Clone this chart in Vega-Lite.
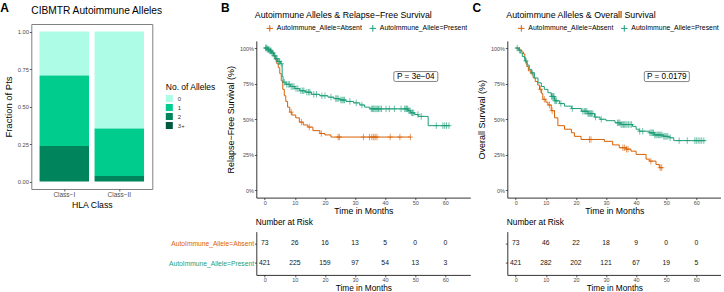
{
  "$schema": "https://vega.github.io/schema/vega-lite/v6.json",
  "background": "white",
  "padding": {"left": 0.3, "top": 1.0, "right": 0, "bottom": 0},
  "bounds": "flush",
  "align": "each",
  "columns": 6,
  "spacing": {"row": 33.6, "column": 2},
  "config": {
    "font": "Liberation Sans",
    "view": {"stroke": null},
    "axis": {
      "grid": false,
      "domainColor": "#000",
      "domainWidth": 0.8,
      "tickColor": "#333",
      "tickSize": 2,
      "tickWidth": 0.8,
      "labelColor": "#4d4d4d",
      "labelFontSize": 5.5,
      "labelPadding": 0.8,
      "titleFontSize": 9,
      "titleFontWeight": "normal",
      "titleColor": "#000"
    },
    "title": {"fontWeight": "normal", "color": "#000", "anchor": "start", "frame": "group"},
    "legend": {"padding": 0}
  },
  "datasets": {
    "alleles": [
      {"cls": "Class−I", "n": "0", "frac": 0.293},
      {"cls": "Class−I", "n": "1", "frac": 0.47},
      {"cls": "Class−I", "n": "2", "frac": 0.237},
      {"cls": "Class−I", "n": "3+", "frac": 0},
      {"cls": "Class−II", "n": "0", "frac": 0.646},
      {"cls": "Class−II", "n": "1", "frac": 0.317},
      {"cls": "Class−II", "n": "2", "frac": 0.037},
      {"cls": "Class−II", "n": "3+", "frac": 0}
    ],
    "rfs": [
      {"g": "Absent", "t": 0, "s": 1},
      {"g": "Absent", "t": 1.2, "s": 0.986},
      {"g": "Absent", "t": 2.2, "s": 0.972},
      {"g": "Absent", "t": 3.0, "s": 0.945},
      {"g": "Absent", "t": 3.5, "s": 0.918},
      {"g": "Absent", "t": 4.0, "s": 0.89},
      {"g": "Absent", "t": 4.5, "s": 0.862},
      {"g": "Absent", "t": 5.0, "s": 0.82},
      {"g": "Absent", "t": 5.5, "s": 0.77},
      {"g": "Absent", "t": 6.0, "s": 0.71},
      {"g": "Absent", "t": 6.5, "s": 0.665},
      {"g": "Absent", "t": 7.0, "s": 0.625},
      {"g": "Absent", "t": 7.6, "s": 0.585},
      {"g": "Absent", "t": 8.3, "s": 0.55},
      {"g": "Absent", "t": 9.0, "s": 0.53},
      {"g": "Absent", "t": 10.3, "s": 0.51},
      {"g": "Absent", "t": 11.5, "s": 0.48},
      {"g": "Absent", "t": 12.8, "s": 0.46},
      {"g": "Absent", "t": 14.3, "s": 0.445},
      {"g": "Absent", "t": 16.0, "s": 0.42},
      {"g": "Absent", "t": 18.3, "s": 0.40},
      {"g": "Absent", "t": 20.0, "s": 0.39},
      {"g": "Absent", "t": 22.0, "s": 0.375},
      {"g": "Absent", "t": 48.5, "s": 0.375},
      {"g": "Present", "t": 0, "s": 1},
      {"g": "Present", "t": 0.8, "s": 0.99},
      {"g": "Present", "t": 1.5, "s": 0.98},
      {"g": "Present", "t": 2.2, "s": 0.965},
      {"g": "Present", "t": 3.0, "s": 0.945},
      {"g": "Present", "t": 3.6, "s": 0.925},
      {"g": "Present", "t": 4.3, "s": 0.905},
      {"g": "Present", "t": 5.2, "s": 0.89},
      {"g": "Present", "t": 5.8, "s": 0.80},
      {"g": "Present", "t": 6.1, "s": 0.76},
      {"g": "Present", "t": 7.0, "s": 0.745},
      {"g": "Present", "t": 8.5, "s": 0.73},
      {"g": "Present", "t": 10.0, "s": 0.715},
      {"g": "Present", "t": 11.6, "s": 0.70},
      {"g": "Present", "t": 13.5, "s": 0.69},
      {"g": "Present", "t": 15.5, "s": 0.675},
      {"g": "Present", "t": 18.3, "s": 0.665},
      {"g": "Present", "t": 21.0, "s": 0.655},
      {"g": "Present", "t": 23.0, "s": 0.645},
      {"g": "Present", "t": 25.0, "s": 0.635},
      {"g": "Present", "t": 27.0, "s": 0.625},
      {"g": "Present", "t": 29.5, "s": 0.615},
      {"g": "Present", "t": 31.6, "s": 0.60},
      {"g": "Present", "t": 33.2, "s": 0.585},
      {"g": "Present", "t": 34.9, "s": 0.573},
      {"g": "Present", "t": 47.6, "s": 0.56},
      {"g": "Present", "t": 48.4, "s": 0.545},
      {"g": "Present", "t": 49.8, "s": 0.533},
      {"g": "Present", "t": 51.0, "s": 0.52},
      {"g": "Present", "t": 54.3, "s": 0.455},
      {"g": "Present", "t": 61.5, "s": 0.455}
    ],
    "rfs_cens": [
      {"g": "Absent", "t": 8.8, "s": 0.55},
      {"g": "Absent", "t": 12.2, "s": 0.48},
      {"g": "Absent", "t": 14.8, "s": 0.445},
      {"g": "Absent", "t": 18.8, "s": 0.40},
      {"g": "Absent", "t": 24.4, "s": 0.375},
      {"g": "Absent", "t": 24.8, "s": 0.375},
      {"g": "Absent", "t": 32.8, "s": 0.375},
      {"g": "Absent", "t": 34.8, "s": 0.375},
      {"g": "Absent", "t": 35.6, "s": 0.375},
      {"g": "Absent", "t": 36.2, "s": 0.375},
      {"g": "Absent", "t": 36.7, "s": 0.375},
      {"g": "Absent", "t": 37.3, "s": 0.375},
      {"g": "Absent", "t": 41.7, "s": 0.375},
      {"g": "Absent", "t": 44.9, "s": 0.375},
      {"g": "Absent", "t": 48.4, "s": 0.375},
      {"g": "Present", "t": 0.3, "s": 1},
      {"g": "Present", "t": 0.5, "s": 1},
      {"g": "Present", "t": 0.7, "s": 1},
      {"g": "Present", "t": 1.0, "s": 0.99},
      {"g": "Present", "t": 1.2, "s": 0.99},
      {"g": "Present", "t": 1.4, "s": 0.99},
      {"g": "Present", "t": 1.7, "s": 0.98},
      {"g": "Present", "t": 1.9, "s": 0.98},
      {"g": "Present", "t": 2.1, "s": 0.98},
      {"g": "Present", "t": 2.4, "s": 0.965},
      {"g": "Present", "t": 2.7, "s": 0.965},
      {"g": "Present", "t": 3.2, "s": 0.945},
      {"g": "Present", "t": 3.4, "s": 0.945},
      {"g": "Present", "t": 3.8, "s": 0.925},
      {"g": "Present", "t": 4.1, "s": 0.925},
      {"g": "Present", "t": 4.5, "s": 0.905},
      {"g": "Present", "t": 4.8, "s": 0.905},
      {"g": "Present", "t": 5.0, "s": 0.905},
      {"g": "Present", "t": 5.5, "s": 0.89},
      {"g": "Present", "t": 6.5, "s": 0.76},
      {"g": "Present", "t": 7.3, "s": 0.745},
      {"g": "Present", "t": 7.8, "s": 0.745},
      {"g": "Present", "t": 8.2, "s": 0.745},
      {"g": "Present", "t": 8.8, "s": 0.73},
      {"g": "Present", "t": 9.3, "s": 0.73},
      {"g": "Present", "t": 9.7, "s": 0.73},
      {"g": "Present", "t": 10.4, "s": 0.715},
      {"g": "Present", "t": 11.0, "s": 0.715},
      {"g": "Present", "t": 12.0, "s": 0.70},
      {"g": "Present", "t": 12.6, "s": 0.70},
      {"g": "Present", "t": 13.0, "s": 0.70},
      {"g": "Present", "t": 14.0, "s": 0.69},
      {"g": "Present", "t": 14.6, "s": 0.69},
      {"g": "Present", "t": 15.0, "s": 0.69},
      {"g": "Present", "t": 16.3, "s": 0.675},
      {"g": "Present", "t": 17.2, "s": 0.675},
      {"g": "Present", "t": 19.0, "s": 0.665},
      {"g": "Present", "t": 20.0, "s": 0.665},
      {"g": "Present", "t": 22.0, "s": 0.655},
      {"g": "Present", "t": 23.6, "s": 0.645},
      {"g": "Present", "t": 24.0, "s": 0.645},
      {"g": "Present", "t": 24.4, "s": 0.645},
      {"g": "Present", "t": 25.3, "s": 0.635},
      {"g": "Present", "t": 25.7, "s": 0.635},
      {"g": "Present", "t": 26.1, "s": 0.635},
      {"g": "Present", "t": 26.5, "s": 0.635},
      {"g": "Present", "t": 28.3, "s": 0.625},
      {"g": "Present", "t": 30.4, "s": 0.615},
      {"g": "Present", "t": 32.3, "s": 0.60},
      {"g": "Present", "t": 35.4, "s": 0.573},
      {"g": "Present", "t": 35.8, "s": 0.573},
      {"g": "Present", "t": 36.2, "s": 0.573},
      {"g": "Present", "t": 36.6, "s": 0.573},
      {"g": "Present", "t": 37.0, "s": 0.573},
      {"g": "Present", "t": 37.4, "s": 0.573},
      {"g": "Present", "t": 37.8, "s": 0.573},
      {"g": "Present", "t": 38.3, "s": 0.573},
      {"g": "Present", "t": 38.8, "s": 0.573},
      {"g": "Present", "t": 40.3, "s": 0.573},
      {"g": "Present", "t": 41.4, "s": 0.573},
      {"g": "Present", "t": 43.1, "s": 0.573},
      {"g": "Present", "t": 45.3, "s": 0.573},
      {"g": "Present", "t": 46.5, "s": 0.573},
      {"g": "Present", "t": 46.9, "s": 0.573},
      {"g": "Present", "t": 47.2, "s": 0.573},
      {"g": "Present", "t": 47.5, "s": 0.573},
      {"g": "Present", "t": 47.9, "s": 0.56},
      {"g": "Present", "t": 48.3, "s": 0.56},
      {"g": "Present", "t": 48.7, "s": 0.545},
      {"g": "Present", "t": 49.1, "s": 0.545},
      {"g": "Present", "t": 49.5, "s": 0.545},
      {"g": "Present", "t": 50.9, "s": 0.533},
      {"g": "Present", "t": 52.0, "s": 0.52},
      {"g": "Present", "t": 57.0, "s": 0.455},
      {"g": "Present", "t": 59.2, "s": 0.455},
      {"g": "Present", "t": 59.8, "s": 0.455},
      {"g": "Present", "t": 60.4, "s": 0.455},
      {"g": "Present", "t": 61.2, "s": 0.455}
    ],
    "os": [
      {"g": "Absent", "t": 0, "s": 1},
      {"g": "Absent", "t": 1.3, "s": 0.986},
      {"g": "Absent", "t": 2.0, "s": 0.972},
      {"g": "Absent", "t": 2.6, "s": 0.958},
      {"g": "Absent", "t": 3.0, "s": 0.93},
      {"g": "Absent", "t": 3.3, "s": 0.90},
      {"g": "Absent", "t": 3.7, "s": 0.87},
      {"g": "Absent", "t": 4.2, "s": 0.84},
      {"g": "Absent", "t": 5.0, "s": 0.82},
      {"g": "Absent", "t": 5.8, "s": 0.79},
      {"g": "Absent", "t": 6.5, "s": 0.765},
      {"g": "Absent", "t": 7.3, "s": 0.74},
      {"g": "Absent", "t": 7.9, "s": 0.71},
      {"g": "Absent", "t": 8.6, "s": 0.68},
      {"g": "Absent", "t": 9.0, "s": 0.64},
      {"g": "Absent", "t": 10.0, "s": 0.62},
      {"g": "Absent", "t": 10.7, "s": 0.60},
      {"g": "Absent", "t": 11.8, "s": 0.56},
      {"g": "Absent", "t": 12.9, "s": 0.51},
      {"g": "Absent", "t": 14.0, "s": 0.455},
      {"g": "Absent", "t": 16.2, "s": 0.43},
      {"g": "Absent", "t": 18.5, "s": 0.405},
      {"g": "Absent", "t": 19.5, "s": 0.38},
      {"g": "Absent", "t": 21.7, "s": 0.358},
      {"g": "Absent", "t": 29.5, "s": 0.345},
      {"g": "Absent", "t": 32.2, "s": 0.32},
      {"g": "Absent", "t": 34.4, "s": 0.30},
      {"g": "Absent", "t": 36.7, "s": 0.29},
      {"g": "Absent", "t": 38.3, "s": 0.276},
      {"g": "Absent", "t": 40.0, "s": 0.253},
      {"g": "Absent", "t": 43.3, "s": 0.22},
      {"g": "Absent", "t": 44.4, "s": 0.206},
      {"g": "Absent", "t": 46.6, "s": 0.182},
      {"g": "Absent", "t": 47.7, "s": 0.16},
      {"g": "Absent", "t": 48.8, "s": 0.16},
      {"g": "Present", "t": 0, "s": 1},
      {"g": "Present", "t": 0.8, "s": 0.985},
      {"g": "Present", "t": 1.5, "s": 0.965},
      {"g": "Present", "t": 2.2, "s": 0.94},
      {"g": "Present", "t": 3.0, "s": 0.91},
      {"g": "Present", "t": 3.8, "s": 0.88},
      {"g": "Present", "t": 4.5, "s": 0.85},
      {"g": "Present", "t": 5.2, "s": 0.826},
      {"g": "Present", "t": 6.2, "s": 0.79},
      {"g": "Present", "t": 7.4, "s": 0.756},
      {"g": "Present", "t": 8.5, "s": 0.73},
      {"g": "Present", "t": 9.5, "s": 0.71},
      {"g": "Present", "t": 10.7, "s": 0.686},
      {"g": "Present", "t": 11.8, "s": 0.66},
      {"g": "Present", "t": 12.9, "s": 0.63},
      {"g": "Present", "t": 14.5, "s": 0.61},
      {"g": "Present", "t": 16.2, "s": 0.592},
      {"g": "Present", "t": 18.5, "s": 0.575},
      {"g": "Present", "t": 21.8, "s": 0.556},
      {"g": "Present", "t": 24.0, "s": 0.54},
      {"g": "Present", "t": 26.2, "s": 0.515},
      {"g": "Present", "t": 28.0, "s": 0.50},
      {"g": "Present", "t": 30.0, "s": 0.49},
      {"g": "Present", "t": 33.0, "s": 0.475},
      {"g": "Present", "t": 35.0, "s": 0.463},
      {"g": "Present", "t": 38.8, "s": 0.45},
      {"g": "Present", "t": 40.0, "s": 0.43},
      {"g": "Present", "t": 41.0, "s": 0.416},
      {"g": "Present", "t": 44.4, "s": 0.405},
      {"g": "Present", "t": 46.0, "s": 0.39},
      {"g": "Present", "t": 49.0, "s": 0.38},
      {"g": "Present", "t": 51.0, "s": 0.37},
      {"g": "Present", "t": 52.5, "s": 0.35},
      {"g": "Present", "t": 63.1, "s": 0.35}
    ],
    "os_cens": [
      {"g": "Absent", "t": 8.2, "s": 0.71},
      {"g": "Absent", "t": 9.5, "s": 0.64},
      {"g": "Absent", "t": 11.2, "s": 0.60},
      {"g": "Absent", "t": 12.1, "s": 0.56},
      {"g": "Absent", "t": 24.5, "s": 0.358},
      {"g": "Absent", "t": 25.0, "s": 0.358},
      {"g": "Absent", "t": 35.6, "s": 0.30},
      {"g": "Absent", "t": 36.2, "s": 0.30},
      {"g": "Absent", "t": 36.8, "s": 0.29},
      {"g": "Absent", "t": 37.3, "s": 0.29},
      {"g": "Absent", "t": 44.9, "s": 0.206},
      {"g": "Absent", "t": 48.0, "s": 0.16},
      {"g": "Absent", "t": 48.5, "s": 0.16},
      {"g": "Present", "t": 0.5, "s": 1},
      {"g": "Present", "t": 1.2, "s": 0.985},
      {"g": "Present", "t": 3.4, "s": 0.91},
      {"g": "Present", "t": 5.5, "s": 0.826},
      {"g": "Present", "t": 11.9, "s": 0.66},
      {"g": "Present", "t": 12.2, "s": 0.66},
      {"g": "Present", "t": 12.5, "s": 0.66},
      {"g": "Present", "t": 12.7, "s": 0.66},
      {"g": "Present", "t": 13.0, "s": 0.63},
      {"g": "Present", "t": 13.3, "s": 0.63},
      {"g": "Present", "t": 13.6, "s": 0.63},
      {"g": "Present", "t": 15.0, "s": 0.61},
      {"g": "Present", "t": 18.8, "s": 0.575},
      {"g": "Present", "t": 22.3, "s": 0.556},
      {"g": "Present", "t": 22.8, "s": 0.556},
      {"g": "Present", "t": 23.2, "s": 0.556},
      {"g": "Present", "t": 23.6, "s": 0.556},
      {"g": "Present", "t": 24.0, "s": 0.54},
      {"g": "Present", "t": 24.3, "s": 0.54},
      {"g": "Present", "t": 24.6, "s": 0.54},
      {"g": "Present", "t": 24.9, "s": 0.54},
      {"g": "Present", "t": 25.2, "s": 0.54},
      {"g": "Present", "t": 25.6, "s": 0.54},
      {"g": "Present", "t": 26.5, "s": 0.515},
      {"g": "Present", "t": 28.4, "s": 0.50},
      {"g": "Present", "t": 33.8, "s": 0.475},
      {"g": "Present", "t": 34.2, "s": 0.475},
      {"g": "Present", "t": 34.6, "s": 0.475},
      {"g": "Present", "t": 35.0, "s": 0.463},
      {"g": "Present", "t": 35.4, "s": 0.463},
      {"g": "Present", "t": 35.8, "s": 0.463},
      {"g": "Present", "t": 36.2, "s": 0.463},
      {"g": "Present", "t": 36.6, "s": 0.463},
      {"g": "Present", "t": 37.0, "s": 0.463},
      {"g": "Present", "t": 37.5, "s": 0.463},
      {"g": "Present", "t": 38.0, "s": 0.463},
      {"g": "Present", "t": 38.5, "s": 0.463},
      {"g": "Present", "t": 41.2, "s": 0.416},
      {"g": "Present", "t": 42.2, "s": 0.416},
      {"g": "Present", "t": 44.6, "s": 0.405},
      {"g": "Present", "t": 45.0, "s": 0.405},
      {"g": "Present", "t": 45.4, "s": 0.405},
      {"g": "Present", "t": 45.8, "s": 0.405},
      {"g": "Present", "t": 46.2, "s": 0.39},
      {"g": "Present", "t": 46.6, "s": 0.39},
      {"g": "Present", "t": 47.0, "s": 0.39},
      {"g": "Present", "t": 47.4, "s": 0.39},
      {"g": "Present", "t": 47.8, "s": 0.39},
      {"g": "Present", "t": 48.2, "s": 0.39},
      {"g": "Present", "t": 48.6, "s": 0.39},
      {"g": "Present", "t": 49.2, "s": 0.38},
      {"g": "Present", "t": 49.6, "s": 0.38},
      {"g": "Present", "t": 50.0, "s": 0.38},
      {"g": "Present", "t": 50.5, "s": 0.38},
      {"g": "Present", "t": 51.3, "s": 0.37},
      {"g": "Present", "t": 54.3, "s": 0.35},
      {"g": "Present", "t": 57.0, "s": 0.35},
      {"g": "Present", "t": 59.5, "s": 0.35},
      {"g": "Present", "t": 60.0, "s": 0.35},
      {"g": "Present", "t": 60.6, "s": 0.35},
      {"g": "Present", "t": 61.2, "s": 0.35},
      {"g": "Present", "t": 61.8, "s": 0.35},
      {"g": "Present", "t": 62.5, "s": 0.35}
    ],
    "pvals": [
      {"panel": "RFS", "t": 50.2, "s": 0.80, "label": "P = 3e−04"},
      {"panel": "OS", "t": 50.2, "s": 0.80, "label": "P = 0.0179"}
    ],
    "risk_rfs": [
      {"g": "Absent", "t": 0, "n": 73}, {"g": "Absent", "t": 10, "n": 26}, {"g": "Absent", "t": 20, "n": 16},
      {"g": "Absent", "t": 30, "n": 13}, {"g": "Absent", "t": 40, "n": 5}, {"g": "Absent", "t": 50, "n": 0},
      {"g": "Absent", "t": 60, "n": 0},
      {"g": "Present", "t": 0, "n": 421}, {"g": "Present", "t": 10, "n": 225}, {"g": "Present", "t": 20, "n": 159},
      {"g": "Present", "t": 30, "n": 97}, {"g": "Present", "t": 40, "n": 54}, {"g": "Present", "t": 50, "n": 13},
      {"g": "Present", "t": 60, "n": 3}
    ],
    "risk_os": [
      {"g": "Absent", "t": 0, "n": 73}, {"g": "Absent", "t": 10, "n": 46}, {"g": "Absent", "t": 20, "n": 22},
      {"g": "Absent", "t": 30, "n": 18}, {"g": "Absent", "t": 40, "n": 9}, {"g": "Absent", "t": 50, "n": 0},
      {"g": "Absent", "t": 60, "n": 0},
      {"g": "Present", "t": 0, "n": 421}, {"g": "Present", "t": 10, "n": 282}, {"g": "Present", "t": 20, "n": 202},
      {"g": "Present", "t": 30, "n": 121}, {"g": "Present", "t": 40, "n": 67}, {"g": "Present", "t": 50, "n": 19},
      {"g": "Present", "t": 60, "n": 5}
    ]
  },
  "resolve": {"scale": {"color": "independent"}, "legend": {"color": "independent"}},
  "concat": [
    {
      "width": 28.3,
      "height": 1,
      "data": {"values": []},
      "mark": {"type": "point", "opacity": 0},
      "title": {"text": "A", "fontSize": 12, "fontWeight": "bold", "offset": 0.4, "baseline": "alphabetic"}
    },
    {
      "width": 121,
      "height": 165,
      "data": {"name": "alleles"},
      "title": {"text": "CIBMTR Autoimmune Alleles", "fontSize": 10.2, "offset": -0.4, "baseline": "alphabetic"},
      "view": {"stroke": "#7f7f7f", "strokeWidth": 1},
      "mark": {"type": "bar"},
      "encoding": {
        "x": {
          "field": "cls",
          "type": "nominal",
          "sort": ["Class−I", "Class−II"],
          "scale": {"paddingInner": 0.1, "paddingOuter": 0.15},
          "axis": {"title": "HLA Class", "labelAngle": 0, "labelFontSize": 6.5, "titleFontSize": 8.7, "domain": false, "titlePadding": 2}
        },
        "y": {
          "field": "frac",
          "type": "quantitative",
          "stack": "zero",
          "scale": {"domain": [-0.05, 1.05], "nice": false},
          "axis": {"title": "Fraction of Pts", "values": [0, 0.25, 0.5, 0.75, 1], "format": ".2f", "domain": false, "labelFontSize": 5.8, "titleFontSize": 9.5, "titlePadding": 4}
        },
        "color": {
          "field": "n",
          "type": "nominal",
          "scale": {"domain": ["0", "1", "2", "3+"], "range": ["#adfce6", "#00cc8e", "#00845b", "#005a40"]},
          "legend": {
            "title": "No. of Alleles",
            "orient": "none",
            "legendX": 134.5,
            "legendY": 58.5,
            "titleFontSize": 8.5,
            "titleFontWeight": "normal",
            "titleColor": "#000",
            "titlePadding": 4,
            "labelFontSize": 6,
            "labelColor": "#333",
            "symbolType": "square",
            "symbolSize": 49,
            "symbolStrokeWidth": 0,
            "symbolOpacity": 1,
            "rowPadding": 2,
            "labelOffset": 5
          }
        },
        "order": {"field": "n", "sort": "descending"}
      }
    },
    {
      "width": 99.5,
      "height": 1,
      "data": {"values": []},
      "mark": {"type": "point", "opacity": 0},
      "title": {"text": "B", "fontSize": 12, "fontWeight": "bold", "dx": 66.7, "offset": 0.4, "baseline": "alphabetic"}
    },
    {
      "width": 214,
      "height": 173.6,
      "title": {"text": "Autoimmune Alleles & Relapse−Free Survival", "fontSize": 8.8, "dx": -1.5, "offset": -2.5, "baseline": "alphabetic"},
      "encoding": {
        "x": {
          "field": "t",
          "type": "quantitative",
          "scale": {"domain": [-2.8, 68.3], "nice": false, "zero": false},
          "axis": {"values": [0, 10, 20, 30, 40, 50, 60], "title": "Time in Months", "titleFontSize": 8.7, "titlePadding": 1}
        },
        "y": {
          "field": "s",
          "type": "quantitative",
          "scale": {"domain": [-0.05, 1.05], "range": [173.6, 16.9], "nice": false},
          "axis": {"values": [0, 0.25, 0.5, 0.75, 1], "format": ".0%", "title": "Relapse−Free Survival (%)", "titlePadding": 4}
        }
      },
      "layer": [
        {
          "data": {"name": "rfs"},
          "mark": {"type": "line", "interpolate": "step-after", "strokeWidth": 1},
          "encoding": {
            "color": {
              "field": "g",
              "type": "nominal",
              "scale": {"domain": ["Absent", "Present"], "range": ["#d95f02", "#1b9e77"]},
              "legend": {
                "title": null,
                "orient": "none",
                "direction": "horizontal",
                "legendX": 9.5,
                "legendY": 0,
                "symbolType": "M-1,0H1M0,-1V1",
                "symbolSize": 42,
                "symbolStrokeWidth": 1,
                "labelFontSize": 6.9,
                "labelColor": "#000",
                "labelOffset": 3,
                "columnPadding": 4,
                "labelExpr": "'AutoImmune_Allele=' + datum.label"
              }
            }
          }
        },
        {
          "data": {"name": "rfs_cens"},
          "mark": {"type": "point", "shape": "M-0.8,0H0.8M0,-1V1", "size": 42, "filled": false, "strokeWidth": 0.9, "opacity": 0.7},
          "encoding": {
            "color": {"field": "g", "type": "nominal", "scale": {"domain": ["Absent", "Present"], "range": ["#d95f02", "#1b9e77"]}, "legend": null}
          }
        },
        {
          "data": {"name": "pvals"},
          "transform": [{"filter": "datum.panel == 'RFS'"}],
          "mark": {"type": "point", "shape": "M-0.93,-0.225H0.93Q1,-0.225 1,-0.155V0.155Q1,0.225 0.93,0.225H-0.93Q-1,0.225 -1,0.155V-0.155Q-1,-0.225 -0.93,-0.225Z", "size": 1936, "filled": true, "fill": "white", "stroke": "#666", "strokeWidth": 0.8, "opacity": 1}
        },
        {
          "data": {"name": "pvals"},
          "transform": [{"filter": "datum.panel == 'RFS'"}],
          "mark": {"type": "text", "fontSize": 8.2, "color": "#000"},
          "encoding": {"text": {"field": "label"}}
        }
      ]
    },
    {
      "width": 33,
      "height": 1,
      "data": {"values": []},
      "mark": {"type": "point", "opacity": 0},
      "title": {"text": "C", "fontSize": 12, "fontWeight": "bold", "dx": 0.3, "offset": 0.4, "baseline": "alphabetic"}
    },
    {
      "width": 214,
      "height": 173.6,
      "title": {"text": "Autoimmune Alleles & Overall Survival", "fontSize": 8.8, "dx": -1, "offset": -2.5, "baseline": "alphabetic"},
      "encoding": {
        "x": {
          "field": "t",
          "type": "quantitative",
          "scale": {"domain": [-2.8, 68.3], "nice": false, "zero": false},
          "axis": {"values": [0, 10, 20, 30, 40, 50, 60], "title": "Time in Months", "titleFontSize": 8.7, "titlePadding": 1}
        },
        "y": {
          "field": "s",
          "type": "quantitative",
          "scale": {"domain": [-0.05, 1.05], "range": [173.6, 16.9], "nice": false},
          "axis": {"values": [0, 0.25, 0.5, 0.75, 1], "format": ".0%", "title": "Overall Survival (%)", "titlePadding": 4}
        }
      },
      "layer": [
        {
          "data": {"name": "os"},
          "mark": {"type": "line", "interpolate": "step-after", "strokeWidth": 1},
          "encoding": {
            "color": {
              "field": "g",
              "type": "nominal",
              "scale": {"domain": ["Absent", "Present"], "range": ["#d95f02", "#1b9e77"]},
              "legend": {
                "title": null,
                "orient": "none",
                "direction": "horizontal",
                "legendX": 10,
                "legendY": 0,
                "symbolType": "M-1,0H1M0,-1V1",
                "symbolSize": 42,
                "symbolStrokeWidth": 1,
                "labelFontSize": 6.9,
                "labelColor": "#000",
                "labelOffset": 3,
                "columnPadding": 4,
                "labelExpr": "'AutoImmune_Allele=' + datum.label"
              }
            }
          }
        },
        {
          "data": {"name": "os_cens"},
          "mark": {"type": "point", "shape": "M-0.8,0H0.8M0,-1V1", "size": 42, "filled": false, "strokeWidth": 0.9, "opacity": 0.7},
          "encoding": {
            "color": {"field": "g", "type": "nominal", "scale": {"domain": ["Absent", "Present"], "range": ["#d95f02", "#1b9e77"]}, "legend": null}
          }
        },
        {
          "data": {"name": "pvals"},
          "transform": [{"filter": "datum.panel == 'OS'"}],
          "mark": {"type": "point", "shape": "M-0.93,-0.225H0.93Q1,-0.225 1,-0.155V0.155Q1,0.225 0.93,0.225H-0.93Q-1,0.225 -1,0.155V-0.155Q-1,-0.225 -0.93,-0.225Z", "size": 2025, "filled": true, "fill": "white", "stroke": "#666", "strokeWidth": 0.8, "opacity": 1}
        },
        {
          "data": {"name": "pvals"},
          "transform": [{"filter": "datum.panel == 'OS'"}],
          "mark": {"type": "text", "fontSize": 8.2, "color": "#000"},
          "encoding": {"text": {"field": "label"}}
        }
      ]
    },
    {"width": 1, "height": 1, "data": {"values": []}, "mark": {"type": "point", "opacity": 0}},
    {"width": 1, "height": 1, "data": {"values": []}, "mark": {"type": "point", "opacity": 0}},
    {"width": 1, "height": 1, "data": {"values": []}, "mark": {"type": "point", "opacity": 0}},
    {
      "width": 214,
      "height": 43.3,
      "data": {"name": "risk_rfs"},
      "title": {"text": "Number at Risk", "fontSize": 8.3, "dx": -0.5, "offset": -1.8, "baseline": "alphabetic"},
      "mark": {"type": "text", "fontSize": 6.8, "color": "#111"},
      "encoding": {
        "x": {
          "field": "t",
          "type": "quantitative",
          "scale": {"domain": [-2.8, 68.3], "nice": false, "zero": false},
          "axis": {"values": [0, 10, 20, 30, 40, 50, 60], "title": "Time in Months", "titleFontSize": 8.3, "titlePadding": 0.5}
        },
        "y": {
          "field": "g",
          "type": "nominal",
          "scale": {"type": "point", "domain": ["Absent", "Present"], "padding": 0.6},
          "axis": {
            "title": null,
            "labelExpr": "'AutoImmune_Allele=' + datum.label",
            "labelFontSize": 6.7,
            "labelColor": {"condition": {"test": "datum.value == 'Absent'", "value": "#d95f02"}, "value": "#1b9e77"}
          }
        },
        "text": {"field": "n", "type": "quantitative"}
      }
    },
    {"width": 1, "height": 1, "data": {"values": []}, "mark": {"type": "point", "opacity": 0}},
    {
      "width": 214,
      "height": 43.3,
      "data": {"name": "risk_os"},
      "title": {"text": "Number at Risk", "fontSize": 8.3, "dx": -0.5, "offset": -1.8, "baseline": "alphabetic"},
      "mark": {"type": "text", "fontSize": 6.8, "color": "#111"},
      "encoding": {
        "x": {
          "field": "t",
          "type": "quantitative",
          "scale": {"domain": [-2.8, 68.3], "nice": false, "zero": false},
          "axis": {"values": [0, 10, 20, 30, 40, 50, 60], "title": "Time in Months", "titleFontSize": 8.3, "titlePadding": 0.5}
        },
        "y": {
          "field": "g",
          "type": "nominal",
          "scale": {"type": "point", "domain": ["Absent", "Present"], "padding": 0.6},
          "axis": {"title": null, "labels": false}
        },
        "text": {"field": "n", "type": "quantitative"}
      }
    }
  ]
}
